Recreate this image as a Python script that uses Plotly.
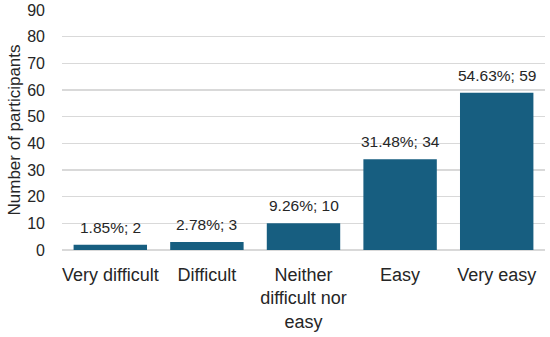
import plotly.graph_objects as go

categories = ["Very difficult", "Difficult", "Neither<br>difficult nor<br>easy", "Easy", "Very easy"]
counts = [2, 3, 10, 34, 59]
percents = ["1.85%", "2.78%", "9.26%", "31.48%", "54.63%"]
y_ticks = list(range(0, 100, 10))

bar_color = "#175E80"
font_family = "Liberation Sans, Arial, sans-serif"

fig = go.Figure()
fig.add_trace(go.Bar(
    x=categories,
    y=counts,
    marker=dict(color=bar_color, line=dict(width=0)),
    hoverinfo="skip",
))

for c, v, p in zip(categories, counts, percents):
    fig.add_annotation(
        x=c, y=v, text=f"{p}; {v}", showarrow=False,
        yanchor="bottom", yshift=7,
        font=dict(family=font_family, size=15.5, color="#262626"),
    )

fig.update_layout(
    width=550, height=337,
    margin=dict(l=62, r=5, t=10, b=87, autoexpand=False),
    paper_bgcolor="white", plot_bgcolor="white",
    bargap=0.24,
    showlegend=False,
    hovermode=False,
    font=dict(family=font_family, color="#262626"),
    xaxis=dict(
        automargin=False,
        tickfont=dict(size=18, color="#262626"),
        showgrid=False, showline=False, ticks="",
        ticklabelstandoff=12,
    ),
    yaxis=dict(
        automargin=False,
        range=[0, 90],
        tickvals=y_ticks,
        tickfont=dict(size=16, color="#262626"),
        ticklabeloverflow="allow",
        showgrid=True, gridcolor="#D9D9D9", gridwidth=1.3,
        zeroline=True, zerolinecolor="#D9D9D9", zerolinewidth=1.3,
        ticks="", ticklabelstandoff=16,
        title=dict(text="Number of participants", font=dict(size=17, color="#262626"), standoff=2),
    ),
)

# remove the default 8px page margin so the figure fills the window exactly
fig.write_html(
    "out.html",
    config={"displayModeBar": False, "staticPlot": True},
    post_script="document.body.style.margin='0';document.body.style.overflow='hidden';",
)
